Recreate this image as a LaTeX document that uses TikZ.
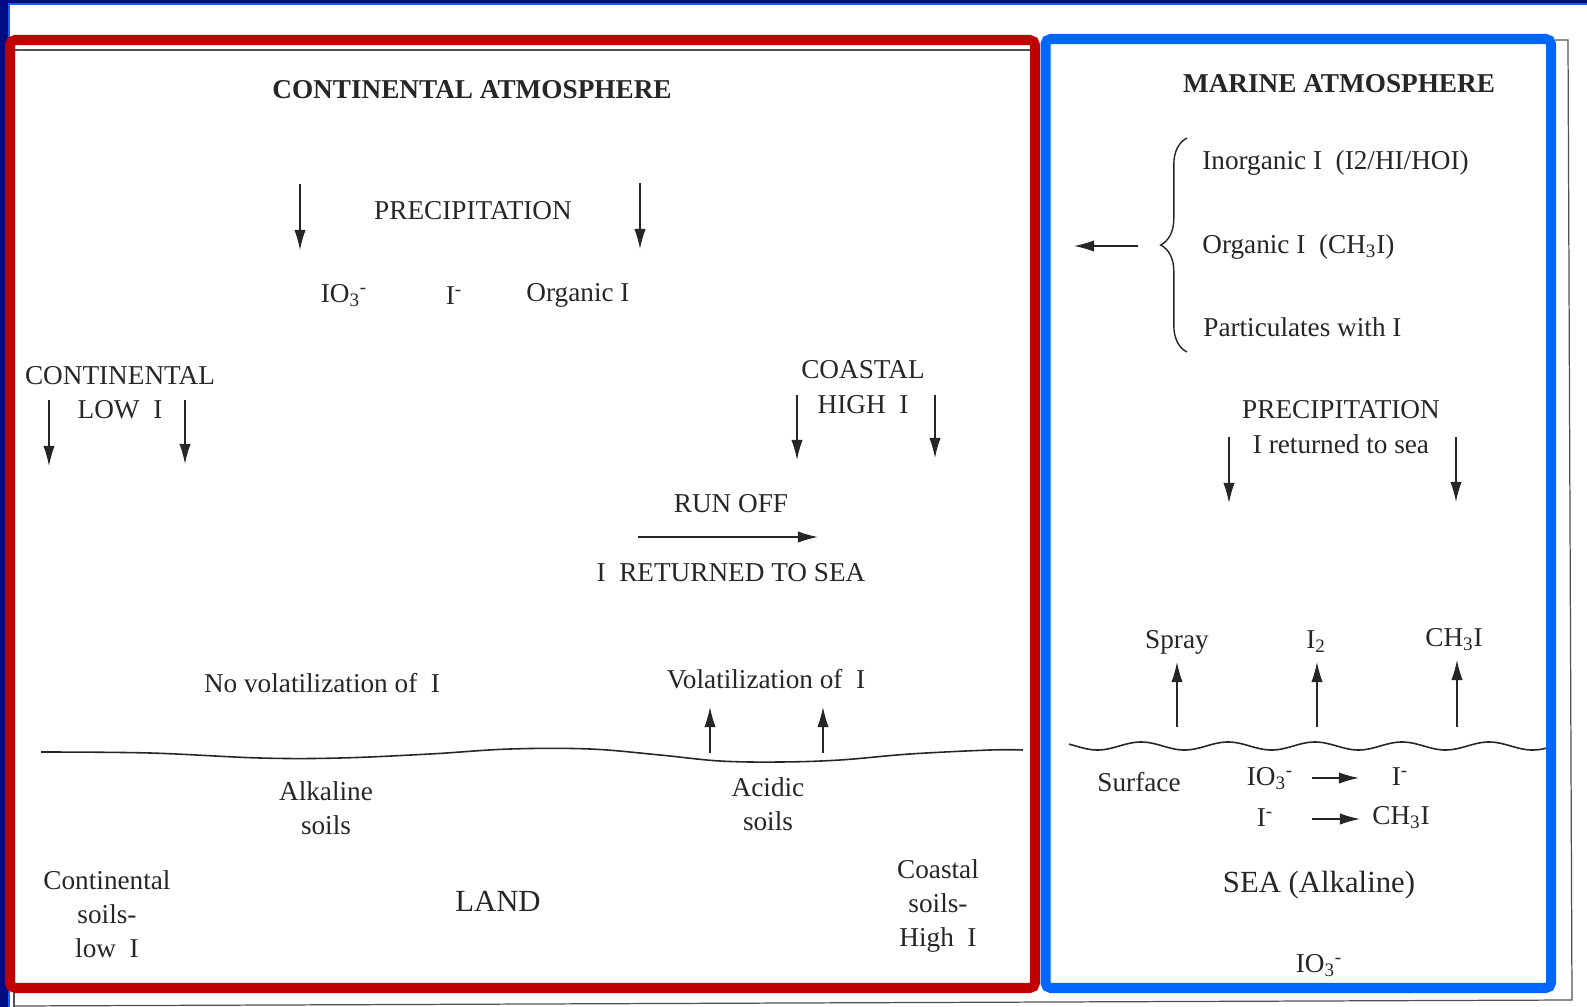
\documentclass[tikz,border=0pt]{standalone}
\usepackage{fontspec}
\setmainfont{Liberation Serif}
\usetikzlibrary{arrows.meta,decorations.pathreplacing}
\definecolor{navy}{HTML}{000C80}
\definecolor{slideblue}{HTML}{1E5AFF}
\definecolor{boxred}{HTML}{C00000}
\definecolor{boxblue}{HTML}{0066FF}
\definecolor{ink}{HTML}{262626}
\definecolor{scan}{HTML}{505050}
\begin{document}
\begin{tikzpicture}[x=0.02cm,y=-0.02cm,
  txt/.style={text=ink, font=\fontsize{15.5}{19.5}\selectfont, align=center, inner sep=0pt},
  ttl/.style={text=ink, font=\fontsize{15.5}{19.5}\selectfont\bfseries, inner sep=0pt},
  bigtxt/.style={text=ink, font=\fontsize{17.5}{21}\selectfont, inner sep=0pt},
  arr/.style={draw=ink, line width=0.75pt, -{Latex[length=11.5pt,width=6.5pt]}},
  scanline/.style={draw=scan, line width=0.7pt},
  ground/.style={draw=ink, line width=0.9pt},
  panel/.style={line width=5.7pt, rounded corners=3pt}]
\useasboundingbox (0,0) rectangle (1587,1007);
% slide background
\fill[navy] (0,0) rectangle (1587,1007);
\fill[white] (9,4) rectangle (1587,1007);
\draw[slideblue, line width=1.2pt] (9,1007) -- (9,4) -- (1587,4);
% scanned page frame
\draw[scanline] (15,50) -- (1030,50);
\draw[scanline] (1555,40) -- (1568,40) -- (1572,1000) -- (14,1006);
\draw[scanline] (14,993) -- (14,1007);
% panels
\draw[boxred, panel] (10,40) rectangle (1035,988);
\draw[boxblue, panel] (1045.5,39) rectangle (1551,988);

% ---------- continental side ----------
\node[ttl] (catm) at (472,90) {CONTINENTAL ATMOSPHERE};
\node[txt] (cprec) at (473,211) {PRECIPITATION};
\coordinate (cp1s) at (300,184); \coordinate (cp1e) at (300,250);
\coordinate (cp2s) at (640,183); \coordinate (cp2e) at (640,249);
\draw[arr] (cp1s) -- (cp1e);
\draw[arr] (cp2s) -- (cp2e);
\node[txt] (cio3) at (344,296) {IO\textsubscript{3}\textsuperscript{-}};
\node[txt] (ci) at (454,296) {I\textsuperscript{-}};
\node[txt] (corg) at (578,295) {Organic I};

\node[txt] (clow) at (120,393) {CONTINENTAL\\LOW\ \ I};
\coordinate (cl1s) at (49,400); \coordinate (cl1e) at (49,466);
\coordinate (cl2s) at (185,400); \coordinate (cl2e) at (185,464);
\draw[arr] (cl1s) -- (cl1e);
\draw[arr] (cl2s) -- (cl2e);

\node[txt] (chigh) at (863,387) {COASTAL\\HIGH\ \ I};
\coordinate (ch1s) at (797,395); \coordinate (ch1e) at (797,460);
\coordinate (ch2s) at (935,395); \coordinate (ch2e) at (935,458);
\draw[arr] (ch1s) -- (ch1e);
\draw[arr] (ch2s) -- (ch2e);

\node[txt] (runoff) at (731,504) {RUN OFF};
\coordinate (ro1) at (638,537); \coordinate (ro2) at (818,537);
\draw[arr] (ro1) -- (ro2);
\node[txt] (iret) at (731,573) {I\ \ RETURNED TO SEA};

\node[txt] (novol) at (322,683) {No volatilization of\ \ I};
\node[txt] (vol) at (766,679) {Volatilization of\ \ I};
\coordinate (v1s) at (710,753); \coordinate (v1e) at (710,707);
\coordinate (v2s) at (823,753); \coordinate (v2e) at (823,707);
\draw[arr] (v1s) -- (v1e);
\draw[arr] (v2s) -- (v2e);

\draw[ground] plot[smooth, tension=0.6] coordinates {(41,752) (150,753) (260,758) (340,758) (430,754) (510,749) (590,749) (660,755) (720,761) (780,762) (840,760) (910,754) (990,750) (1023,750)};

\node[txt] (alk) at (326,808) {Alkaline\\soils};
\node[txt] (acid) at (768,804) {Acidic\\soils};
\node[txt] (csoil) at (107,914) {Continental\\soils-\\low\ \ I};
\node[bigtxt] (land) at (498,901) {LAND};
\node[txt] (coast) at (938,906) {Coastal\\soils-\\High\ \ I};

% ---------- marine side ----------
\node[ttl] (matm) at (1339,84) {MARINE ATMOSPHERE};
\node[txt, anchor=west] (inorg) at (1202,163) {Inorganic I\ \ (I2/HI/HOI)};
\node[txt, anchor=west] (org) at (1202,247) {Organic I\ \ (CH\textsubscript{3}I)};
\node[txt, anchor=west] (part) at (1203,327) {Particulates with I};
\draw[ink, line width=0.8pt, decorate, decoration={brace, amplitude=15pt}] (1187,352) -- (1187,138);
\coordinate (la1) at (1138,246); \coordinate (la2) at (1074,246);
\draw[arr] (la1) -- (la2);

\node[txt] (mprec) at (1341,427) {PRECIPITATION\\I returned to sea};
\coordinate (mp1s) at (1229,437); \coordinate (mp1e) at (1229,503);
\coordinate (mp2s) at (1456,437); \coordinate (mp2e) at (1456,502);
\draw[arr] (mp1s) -- (mp1e);
\draw[arr] (mp2s) -- (mp2e);

\node[txt] (spray) at (1177,642) {Spray};
\node[txt] (i2) at (1316,642) {I\textsubscript{2}};
\node[txt] (ch3i) at (1454,640) {CH\textsubscript{3}I};
\coordinate (u1s) at (1177,727); \coordinate (u1e) at (1177,662);
\coordinate (u2s) at (1317,727); \coordinate (u2e) at (1317,662);
\coordinate (u3s) at (1457,727); \coordinate (u3e) at (1457,660);
\draw[arr] (u1s) -- (u1e);
\draw[arr] (u2s) -- (u2e);
\draw[arr] (u3s) -- (u3e);

\draw[ground] plot[domain=1069:1546, samples=220, smooth] (\x, {746-4*cos((\x-1141)/87*360)});

\node[txt] (surf) at (1139,782) {Surface};
\node[txt] (sio3) at (1270,779) {IO\textsubscript{3}\textsuperscript{-}};
\node[txt] (si1) at (1400,777) {I\textsuperscript{-}};
\coordinate (r1s) at (1312,778); \coordinate (r1e) at (1359,778);
\draw[arr] (r1s) -- (r1e);
\node[txt] (si2) at (1265,818) {I\textsuperscript{-}};
\node[txt] (sch3i) at (1401,818) {CH\textsubscript{3}I};
\coordinate (r2s) at (1312,819); \coordinate (r2e) at (1360,819);
\draw[arr] (r2s) -- (r2e);

\node[bigtxt] (sea) at (1319,885) {SEA (Alkaline)};
\node[txt] (bio3) at (1319,966) {IO\textsubscript{3}\textsuperscript{-}};
\end{tikzpicture}
\end{document}
